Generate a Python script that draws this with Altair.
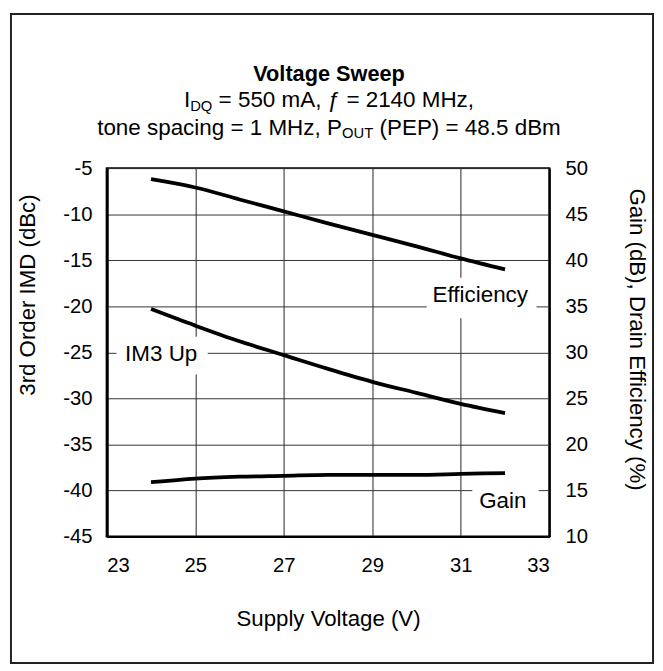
import altair as alt
import pandas as pd

# ---------------- data ----------------
volts = [24, 25, 26, 27, 28, 29, 30, 31, 32]
im3_up = [-20.3, -22.1, -23.8, -25.3, -26.8, -28.2, -29.4, -30.6, -31.6]
efficiency = [48.8, 47.9, 46.6, 45.3, 44.0, 42.75, 41.5, 40.2, 39.0]
gain = [15.9, 16.3, 16.5, 16.6, 16.7, 16.7, 16.7, 16.8, 16.9]

x_ticks = [23, 25, 27, 29, 31, 33]
left_ticks = [-45, -40, -35, -30, -25, -20, -15, -10, -5]
right_ticks = [10, 15, 20, 25, 30, 35, 40, 45, 50]

label_names = ["Efficiency", "IM3 Up", "Gain"]
label_x = [31.44, 24.23, 31.95]
label_y = [-18.8, -25.2, -41.1]
box_x0 = [30.23, 23.22, 31.26]
box_x1 = [32.71, 25.28, 32.76]
box_y0 = [-16.9, -23.3, -39.0]
box_y1 = [-21.3, -27.4, -43.3]

FONT = "Liberation Sans"
NB = "\u00a0"

df = pd.DataFrame({"V": volts, "IM3": im3_up, "Eff": efficiency, "Gain": gain})
ann = pd.DataFrame({"name": label_names, "tx": label_x, "ty": label_y,
                    "x0": box_x0, "x1": box_x1, "y0": box_y0, "y1": box_y1})

xs = alt.Scale(domain=[23, 33], nice=False, zero=False)
yl = alt.Scale(domain=[-45, -5], nice=False, zero=False)
yr = alt.Scale(domain=[10, 50], nice=False, zero=False)

HYPHEN = "datum.value < 0 ? '-' + abs(datum.value) : '' + datum.value"

xaxis = alt.Axis(values=x_ticks, grid=True, gridColor="#222", gridWidth=1,
                 ticks=False, domainColor="black", domainWidth=2,
                 labelFontSize=20.5, labelPadding=19, labelFont=FONT, labelColor="black",
                 titleFontSize=22.5, titleFont=FONT, titleFontWeight="normal",
                 titlePadding=33, titleColor="black")
ylaxis = alt.Axis(values=left_ticks, grid=True, gridColor="#333", gridWidth=1,
                  ticks=False, domainColor="black", domainWidth=3, orient="left",
                  labelFontSize=20.5, labelPadding=15, labelFont=FONT, labelColor="black",
                  labelExpr=HYPHEN,
                  titleFontSize=22.5, titleFont=FONT, titleFontWeight="normal",
                  titlePadding=24, titleColor="black", titleY=128)
yraxis = alt.Axis(values=right_ticks, grid=False, ticks=False, orient="right",
                  domainColor="black", domainWidth=2,
                  labelFontSize=20.5, labelPadding=16, labelFont=FONT, labelColor="black",
                  titleFontSize=22.5, titleFont=FONT, titleFontWeight="normal",
                  titlePadding=37, titleColor="black", titleY=173)

XT = "Supply Voltage (V)"
YLT = "3rd Order IMD (dBc)"
YRT = "Gain (dB), Drain Efficiency (%)"

boxes = alt.Chart(ann).mark_rect(color="white").encode(
    x=alt.X("x0:Q", scale=xs, axis=xaxis, title=XT), x2="x1:Q",
    y=alt.Y("y0:Q", scale=yl, axis=ylaxis, title=YLT), y2="y1:Q")

labels = alt.Chart(ann).mark_text(font=FONT, fontSize=22.7, color="black",
                                  align="center", baseline="middle").encode(
    x=alt.X("tx:Q", scale=xs, axis=xaxis, title=XT),
    y=alt.Y("ty:Q", scale=yl, axis=ylaxis, title=YLT),
    text="name:N")

im3_line = alt.Chart(df).mark_line(color="black", strokeWidth=3.8,
                                   interpolate="monotone").encode(
    x=alt.X("V:Q", scale=xs, axis=xaxis, title=XT),
    y=alt.Y("IM3:Q", scale=yl, axis=ylaxis, title=YLT))

# ---- border & title (pixel-positioned decorations) ----
one = alt.Data(values=[{"k": 1}])
border = alt.Chart(one).mark_rect(fill=None, stroke="#222", strokeWidth=2).encode(
    x=alt.value(-97), x2=alt.value(553), y=alt.value(-156), y2=alt.value(501))

W = {' ': 278, NB: 278, '=': 584, '.': 278, ',': 278, '(': 333, ')': 333,
     'A': 667, 'B': 667, 'D': 722, 'E': 667, 'H': 722, 'I': 278, 'M': 833,
     'O': 778, 'P': 667, 'Q': 778, 'T': 611, 'U': 722,
     'a': 556, 'c': 500, 'd': 556, 'e': 556, 'g': 556, 'i': 222, 'm': 833,
     'n': 556, 'o': 556, 'p': 556, 's': 500, 't': 278, 'z': 500, 'ƒ': 556}
for d in "0123456789":
    W[d] = 556


def tw(s, size):
    return sum(W.get(c, 556) for c in s) * size / 1000.0


CX = 225  # horizontal center of title block, plot coords
MAIN = 22.7
SUB = 15
line1 = [("I", MAIN, 0), ("DQ", SUB, 4), (" = 550 mA, ", MAIN, 0), ("ƒ", MAIN, 0),
         (" = 2140 MHz,", MAIN, 0)]
line2 = [("tone spacing = 1 MHz, P", MAIN, 0), ("OUT", SUB, 4),
         (" (PEP) = 48.5 dBm", MAIN, 0)]

title_layers = [
    alt.Chart(one).mark_text(text="Voltage Sweep", font=FONT, fontSize=22,
                             fontWeight="bold", align="center",
                             baseline="alphabetic", color="black").encode(
        x=alt.value(CX), y=alt.value(-88))
]
for pieces, base in ((line1, -62), (line2, -34)):
    total = sum(tw(s, sz) for s, sz, _ in pieces)
    cur = CX - total / 2.0
    for s, sz, dy in pieces:
        lead = len(s) - len(s.lstrip(" "))
        body = s.lstrip(" ").replace(" ", NB)
        x0 = cur + lead * W[" "] * sz / 1000.0
        title_layers.append(
            alt.Chart(one).mark_text(text=body, font=FONT, fontSize=sz, align="left",
                                     baseline="alphabetic", color="black").encode(
                x=alt.value(x0), y=alt.value(base + dy)))
        cur += tw(s, sz)

left = alt.layer(boxes, labels, im3_line, border, *title_layers)

eff_line = alt.Chart(df).mark_line(color="black", strokeWidth=3.8,
                                   interpolate="monotone").encode(
    x=alt.X("V:Q", scale=xs, axis=xaxis, title=XT),
    y=alt.Y("Eff:Q", scale=yr, axis=yraxis, title=YRT))
gain_line = alt.Chart(df).mark_line(color="black", strokeWidth=3.8,
                                    interpolate="monotone").encode(
    x=alt.X("V:Q", scale=xs, axis=xaxis, title=XT),
    y=alt.Y("Gain:Q", scale=yr, axis=yraxis, title=YRT))
right = alt.layer(eff_line, gain_line)

chart = alt.layer(left, right).resolve_scale(y="independent").properties(
    width=448, height=373,
    autosize=alt.AutoSizeParams(type="none"),
    padding={"left": 100, "top": 158, "right": 107, "bottom": 132},
    background="white",
).configure_view(stroke="black", strokeWidth=2)

chart.save("out.html", embed_options={"renderer": "svg", "actions": False})
